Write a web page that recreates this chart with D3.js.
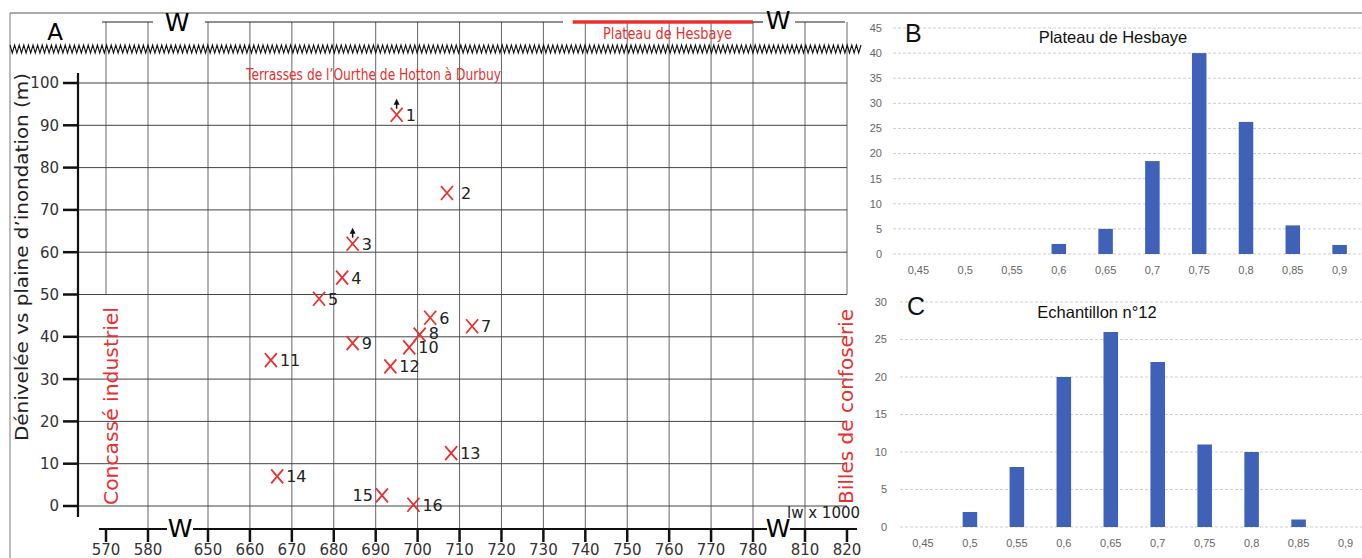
<!DOCTYPE html>
<html lang="fr">
<head>
<meta charset="UTF-8">
<title>Terrasses de l'Ourthe - Iw</title>
<script src="https://d3js.org/d3.v7.min.js"></script>
<style>
    body { margin: 0; background: white; }
    svg { display: block; }
    text { font-family: "DejaVu Sans", sans-serif; }
    .hist text { font-family: "Liberation Sans", Arial, sans-serif; }
</style>
</head>
<body>
<svg width="1362" height="558"></svg>
<script>
// --- panel A data (Iw x 1000 vs dénivelée)
const xTicks = [570, 580, 650, 660, 670, 680, 690, 700, 710, 720, 730, 740, 750, 760, 770, 780, 810, 820];
const yTicks = [0, 10, 20, 30, 40, 50, 60, 70, 80, 90, 100];
const pointIds = [1, 2, 3, 4, 5, 6, 7, 8, 9, 10, 11, 12, 13, 14, 15, 16];
const pointIw = [695, 707, 684.5, 682, 676.5, 703, 713, 700.5, 684.5, 698, 665, 693.5, 708, 666.5, 691.5, 699];
const pointElev = [92.5, 74, 62, 54, 49, 44.5, 42.5, 40.5, 38.5, 37.5, 34.5, 33, 12.5, 7, 2.5, 0.3];
const arrowIds = [1, 3]; // minimum values, arrow pointing up

// --- panels B and C data (histograms)
const classes = ["0,45", "0,5", "0,55", "0,6", "0,65", "0,7", "0,75", "0,8", "0,85", "0,9"];
const hesbaye = [0, 0, 0, 2, 5, 18.5, 40, 26.3, 5.7, 1.8];
const hesbayeTicks = [0, 5, 10, 15, 20, 25, 30, 35, 40, 45];
const echantillon = [0, 2, 8, 20, 26, 22, 11, 10, 1, 0];
const echantillonTicks = [0, 5, 10, 15, 20, 25, 30];

const red = "#e8302f";
const svg = d3.select("svg");

// frame of the figure
svg.append("line").attr("x1", 10).attr("x2", 1362).attr("y1", 13).attr("y2", 13).attr("stroke", "#555").attr("stroke-width", 1);
svg.append("line").attr("x1", 10).attr("x2", 10).attr("y1", 13).attr("y2", 558).attr("stroke", "#777").attr("stroke-width", 1);

// ---------------- panel A ----------------
const A = svg.append("g");
// broken axis: 570-580 | 650-780 | 810-820
const x = d3.scaleLinear().domain([570, 580, 650, 780, 810, 820]).range([106, 148, 208, 753, 805, 847]);
const y = d3.scaleLinear().domain([0, 100]).range([506, 83]);
const topY = 22, axisY = 529, axisX = 78;

// vertical grid
A.selectAll(".vgrid").data(xTicks).join("line")
    .attr("x1", d => x(d)).attr("x2", d => x(d))
    .attr("y1", topY)
    .attr("y2", d => (d === 570 || d === 820) ? y(50) : axisY)
    .attr("stroke", "#666").attr("stroke-width", 1);

// horizontal grid
A.selectAll(".hgrid").data(yTicks).join("line")
    .attr("x1", axisX).attr("x2", x(820))
    .attr("y1", d => y(d)).attr("y2", d => y(d))
    .attr("stroke", "#444").attr("stroke-width", 1);

// top frame with breaks
[[102, 153], [205, 563], [752, 763], [795, 845]].forEach(s => {
    A.append("line").attr("x1", s[0]).attr("x2", s[1]).attr("y1", topY).attr("y2", topY)
        .attr("stroke", "#222").attr("stroke-width", 1.2);
});
A.append("line").attr("x1", x(737)).attr("x2", x(780)).attr("y1", topY).attr("y2", topY)
    .attr("stroke", red).attr("stroke-width", 3.5);
A.append("text").attr("x", 177).attr("y", 31).attr("text-anchor", "middle").attr("font-size", 25).text("W");
A.append("text").attr("x", 778).attr("y", 29).attr("text-anchor", "middle").attr("font-size", 25).text("W");

// zigzag break line
const zig = [];
for (let i = 0, xx = 10; xx <= 862; i++, xx += 2.3) zig.push([xx, i % 2 ? 53 : 45]);
A.append("path").attr("d", d3.line()(zig)).attr("fill", "none").attr("stroke", "#111").attr("stroke-width", 1.1);

// y axis
A.append("line").attr("x1", axisX).attr("x2", axisX).attr("y1", 73).attr("y2", 517)
    .attr("stroke", "#111").attr("stroke-width", 2.2);
A.selectAll(".ytick").data(yTicks).join("line")
    .attr("x1", 63).attr("x2", axisX).attr("y1", d => y(d)).attr("y2", d => y(d))
    .attr("stroke", "#111").attr("stroke-width", 2.5);
A.selectAll(".ylab").data(yTicks).join("text")
    .attr("x", 59).attr("y", d => y(d)).attr("dy", "0.36em")
    .attr("text-anchor", "end").attr("font-size", 15).attr("fill", "#333")
    .text(d => d);

// x axis with breaks
[[99, 167], [193, 767], [790, 857]].forEach(s => {
    A.append("line").attr("x1", s[0]).attr("x2", s[1]).attr("y1", axisY).attr("y2", axisY)
        .attr("stroke", "#111").attr("stroke-width", 2);
});
A.append("text").attr("x", 180).attr("y", 537).attr("text-anchor", "middle").attr("font-size", 25).text("W");
A.append("text").attr("x", 778).attr("y", 537).attr("text-anchor", "middle").attr("font-size", 25).text("W");
A.selectAll(".xtick").data(xTicks).join("line")
    .attr("x1", d => x(d)).attr("x2", d => x(d)).attr("y1", axisY).attr("y2", 542)
    .attr("stroke", "#111").attr("stroke-width", 2.5);
A.selectAll(".xlab").data(xTicks).join("text")
    .attr("x", d => x(d)).attr("y", 555)
    .attr("text-anchor", "middle").attr("font-size", 15).attr("fill", "#333")
    .text(d => d);
A.append("text").attr("x", 787).attr("y", 518).attr("font-size", 15).attr("fill", "#222").text("lw x 1000");

// titles and labels
A.append("text").attr("x", 55).attr("y", 40).attr("text-anchor", "middle").attr("font-size", 23).text("A");
A.append("text").attr("x", 246).attr("y", 80).attr("font-size", 15).attr("fill", red)
    .attr("textLength", 255).attr("lengthAdjust", "spacingAndGlyphs")
    .text("Terrasses de l\u2019Ourthe de Hotton \u00e0 Durbuy");
A.append("text").attr("x", 603).attr("y", 39).attr("font-size", 15).attr("fill", red)
    .attr("textLength", 129).attr("lengthAdjust", "spacingAndGlyphs")
    .text("Plateau de Hesbaye");
A.append("text").attr("transform", "translate(28,441) rotate(-90)").attr("font-size", 18).attr("fill", "#222")
    .attr("textLength", 368).attr("lengthAdjust", "spacingAndGlyphs")
    .text("D\u00e9nivel\u00e9e vs plaine d\u2019inondation (m)");
A.append("text").attr("transform", "translate(118,505) rotate(-90)").attr("font-size", 19).attr("fill", red)
    .attr("textLength", 198).attr("lengthAdjust", "spacingAndGlyphs")
    .text("Concass\u00e9 industriel");
A.append("text").attr("transform", "translate(853,504) rotate(-90)").attr("font-size", 19).attr("fill", red)
    .attr("textLength", 195).attr("lengthAdjust", "spacingAndGlyphs")
    .text("Billes de confoserie");

// points
const pts = pointIds.map((id, i) => ({ id, cx: x(pointIw[i]), cy: y(pointElev[i]) }));
A.selectAll(".mark").data(pts).join("path")
    .attr("transform", d => `translate(${d.cx},${d.cy})`)
    .attr("d", "M-6,-7L6,7M6,-7L-6,7")
    .attr("fill", "none").attr("stroke", red).attr("stroke-width", 1.8);
A.selectAll(".plab").data(pts).join("text")
    .attr("x", d => d.id === 15 ? d.cx - 9 : d.cx + (d.id === 2 ? 14 : 9))
    .attr("y", d => d.cy + (d.id === 8 ? 4 : 6))
    .attr("text-anchor", d => d.id === 15 ? "end" : "start")
    .attr("font-size", 16).attr("fill", "#222")
    .text(d => d.id);
const arrows = pts.filter(d => arrowIds.includes(d.id));
A.selectAll(".arr").data(arrows).join("line")
    .attr("x1", d => d.cx).attr("x2", d => d.cx).attr("y1", d => d.cy - 6).attr("y2", d => d.cy - 12)
    .attr("stroke", "#111").attr("stroke-width", 1.5);
A.selectAll(".arrh").data(arrows).join("path")
    .attr("transform", d => `translate(${d.cx},${d.cy - 16})`)
    .attr("d", "M0,0L3,6L-3,6Z").attr("fill", "#111");

// ---------------- panels B and C ----------------
function histogram(cfg) {
    const g = svg.append("g").attr("class", "hist");
    const xb = d3.scaleBand().domain(classes).range(cfg.xRange).paddingInner(0.69).paddingOuter(0.345);
    const yb = d3.scaleLinear().domain([0, d3.max(cfg.ticks)]).range(cfg.yRange);

    g.selectAll(".grid").data(cfg.ticks).join("line")
        .attr("x1", cfg.gridStart).attr("x2", 1362)
        .attr("y1", d => yb(d)).attr("y2", d => yb(d))
        .attr("stroke", "#cfcfcf").attr("stroke-width", 1).attr("stroke-dasharray", "3,2");
    g.selectAll(".ylab").data(cfg.ticks).join("text")
        .attr("x", cfg.labelX).attr("y", d => yb(d)).attr("dy", "0.35em")
        .attr("text-anchor", "end").attr("font-size", 11).attr("fill", "#666")
        .text(d => d);
    g.selectAll(".bar").data(cfg.values).join("rect")
        .attr("x", (d, i) => xb(classes[i])).attr("width", xb.bandwidth())
        .attr("y", d => yb(d)).attr("height", d => yb(0) - yb(d))
        .attr("fill", "#3f62b8");
    g.selectAll(".xlab").data(classes).join("text")
        .attr("x", d => xb(d) + xb.bandwidth() / 2).attr("y", cfg.xLabelY)
        .attr("text-anchor", "middle").attr("font-size", 11).attr("fill", "#666")
        .text(d => d);
    g.append("text").attr("x", cfg.letterPos[0]).attr("y", cfg.letterPos[1])
        .attr("font-size", 25).attr("fill", "#111").text(cfg.letter);
    g.append("text").attr("x", cfg.titlePos[0]).attr("y", cfg.titlePos[1])
        .attr("text-anchor", "middle").attr("font-size", 16.5).attr("fill", "#111").text(cfg.title);
}

histogram({
    values: hesbaye, ticks: hesbayeTicks,
    xRange: [895, 1363], yRange: [254, 28], gridStart: 893, labelX: 882, xLabelY: 274,
    letter: "B", letterPos: [905, 42], title: "Plateau de Hesbaye", titlePos: [1113, 43]
});
histogram({
    values: echantillon, ticks: echantillonTicks,
    xRange: [899.5, 1369], yRange: [527, 302], gridStart: 900, labelX: 887, xLabelY: 547,
    letter: "C", letterPos: [907, 315], title: "Echantillon n\u00b012", titlePos: [1097, 318]
});
</script>
</body>
</html>
